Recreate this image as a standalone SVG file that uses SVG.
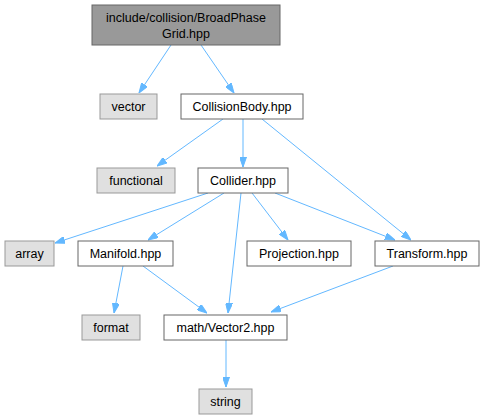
<svg xmlns="http://www.w3.org/2000/svg" width="485" height="420" viewBox="0 0 485 420">
<style>
.n rect{fill:#ffffff;stroke:#666666;stroke-width:1}
.g rect{fill:#e0e0e0;stroke:#999999;stroke-width:1}
.t rect{fill:#999999;stroke:#666666;stroke-width:1}
text{font-family:"Liberation Sans",Arial,Helvetica,sans-serif;font-size:12.5px;fill:#000000;text-anchor:middle}
.e line{stroke:#63b8ff;stroke-width:1;marker-end:url(#ah)}
</style>
<defs>
<marker id="ah" viewBox="0 0 10 7" refX="10" refY="3.5" markerWidth="10" markerHeight="7" markerUnits="userSpaceOnUse" orient="auto">
<path d="M0,0 L10,3.5 L0,7 z" fill="#63b8ff" stroke="#63b8ff"/>
</marker>
</defs>
<rect width="485" height="420" fill="#ffffff"/>
<g class="e" id="connectors">
<line x1="171" y1="45" x2="139" y2="93"/>
<line x1="201" y1="45" x2="234" y2="93"/>
<line x1="223" y1="119" x2="157" y2="166"/>
<line x1="243" y1="119" x2="243" y2="167"/>
<line x1="262" y1="119" x2="411" y2="240"/>
<line x1="208" y1="193" x2="55" y2="243"/>
<line x1="224" y1="193" x2="148" y2="240"/>
<line x1="241" y1="193" x2="228" y2="313"/>
<line x1="252" y1="193" x2="288" y2="240"/>
<line x1="275" y1="193" x2="395" y2="240"/>
<line x1="123" y1="266" x2="114" y2="313"/>
<line x1="143" y1="266" x2="207" y2="313"/>
<line x1="393" y1="266" x2="271" y2="312"/>
<line x1="226" y1="340" x2="226" y2="387"/>
</g>
<g id="node_top" class="t"><rect x="92" y="5" width="188" height="40"/><text x="186" y="22">include/collision/BroadPhase</text><text x="186" y="38">Grid.hpp</text></g>
<g id="node_vector" class="g"><rect x="100" y="94" width="57" height="25"/><text x="128.5" y="111">vector</text></g>
<g id="node_collisionbody" class="n"><rect x="181" y="94" width="122" height="25"/><text x="242" y="111">CollisionBody.hpp</text></g>
<g id="node_functional" class="g"><rect x="97" y="168" width="78" height="25"/><text x="136" y="185">functional</text></g>
<g id="node_collider" class="n"><rect x="198" y="168" width="90" height="25"/><text x="243" y="185">Collider.hpp</text></g>
<g id="node_array" class="g"><rect x="5" y="241" width="49" height="25"/><text x="29.5" y="258">array</text></g>
<g id="node_manifold" class="n"><rect x="78" y="241" width="95" height="25"/><text x="125.5" y="258">Manifold.hpp</text></g>
<g id="node_projection" class="n"><rect x="247" y="241" width="104" height="25"/><text x="299" y="258">Projection.hpp</text></g>
<g id="node_transform" class="n"><rect x="375" y="241" width="104" height="25"/><text x="427" y="258">Transform.hpp</text></g>
<g id="node_format" class="g"><rect x="82" y="315" width="58" height="25"/><text x="111" y="332">format</text></g>
<g id="node_vector2" class="n"><rect x="164" y="315" width="123" height="25"/><text x="225.5" y="332">math/Vector2.hpp</text></g>
<g id="node_string" class="g"><rect x="199" y="389" width="53" height="25"/><text x="225.5" y="406">string</text></g>
</svg>
